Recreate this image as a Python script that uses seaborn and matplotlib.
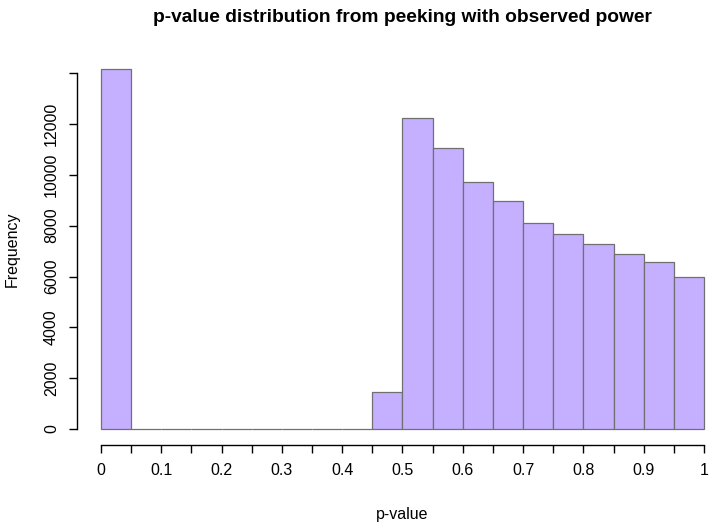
import numpy as np
import matplotlib
matplotlib.use("Agg")
import matplotlib.pyplot as plt
import seaborn as sns

# histogram bins (p-value) and counts
bin_edges = [0.00, 0.05, 0.10, 0.15, 0.20, 0.25, 0.30, 0.35, 0.40, 0.45, 0.50,
             0.55, 0.60, 0.65, 0.70, 0.75, 0.80, 0.85, 0.90, 0.95, 1.00]
counts = [14150, 0, 0, 0, 0, 0, 0, 0, 0, 1460, 12240,
          11060, 9720, 8970, 8110, 7670, 7280, 6880, 6570, 5980]
x_ticks = [0.00, 0.05, 0.10, 0.15, 0.20, 0.25, 0.30, 0.35, 0.40, 0.45, 0.50,
           0.55, 0.60, 0.65, 0.70, 0.75, 0.80, 0.85, 0.90, 0.95, 1.00]
x_labels = ["0", "", "0.1", "", "0.2", "", "0.3", "", "0.4", "", "0.5",
            "", "0.6", "", "0.7", "", "0.8", "", "0.9", "", "1"]
y_ticks = [0, 2000, 4000, 6000, 8000, 10000, 12000, 14000]
y_labels = ["0", "2000", "4000", "6000", "8000", "10000", "12000", ""]

sns.set_theme(style="ticks")
plt.rcParams["font.family"] = ["Liberation Sans", "DejaVu Sans"]
plt.rcParams["text.color"] = "black"

centers = [(a + b) / 2 for a, b in zip(bin_edges[:-1], bin_edges[1:])]

W, H = 710, 530
fig = plt.figure(figsize=(W / 100, H / 100), dpi=100)
ax = fig.add_axes([77 / W, (H - 445) / H, (710 - 77) / W, (445 - 63) / H])

sns.histplot(x=centers, weights=counts, bins=bin_edges, ax=ax,
             color="#C5B0FF", edgecolor="#707070", linewidth=0.9, alpha=1)

ax.set_xlim(-0.0398, 1.01)
ax.set_ylim(-629, 14400)

ax.spines["top"].set_visible(False)
ax.spines["right"].set_visible(False)
ax.spines["left"].set_bounds(0, 14000)
ax.spines["bottom"].set_bounds(0, 1)
for s in ("left", "bottom"):
    ax.spines[s].set_linewidth(1.0)
    ax.spines[s].set_color("black")

ax.set_xticks(x_ticks)
ax.set_xticklabels(x_labels)
ax.set_yticks(y_ticks)
ax.set_yticklabels(y_labels, rotation=90, va="center")
ax.tick_params(axis="both", length=6, width=1.0, color="black",
               labelsize=11.5, labelcolor="black")
ax.tick_params(axis="x", pad=7)
ax.tick_params(axis="y", pad=7)

ax.set_xlabel("")
ax.set_ylabel("")
fig.text(402 / W, 1 - 514 / H, "p-value", ha="center", va="center",
         fontsize=11.5, color="black")
fig.text(12 / W, 1 - 249 / H, "Frequency", ha="center", va="center",
         rotation=90, fontsize=11.5, color="black")
fig.text(402 / W, 1 - 18 / H, "p-value distribution from peeking with observed power",
         ha="center", va="center", fontsize=13.8, fontweight="bold", color="black")

fig.savefig("out.png", dpi=100)
